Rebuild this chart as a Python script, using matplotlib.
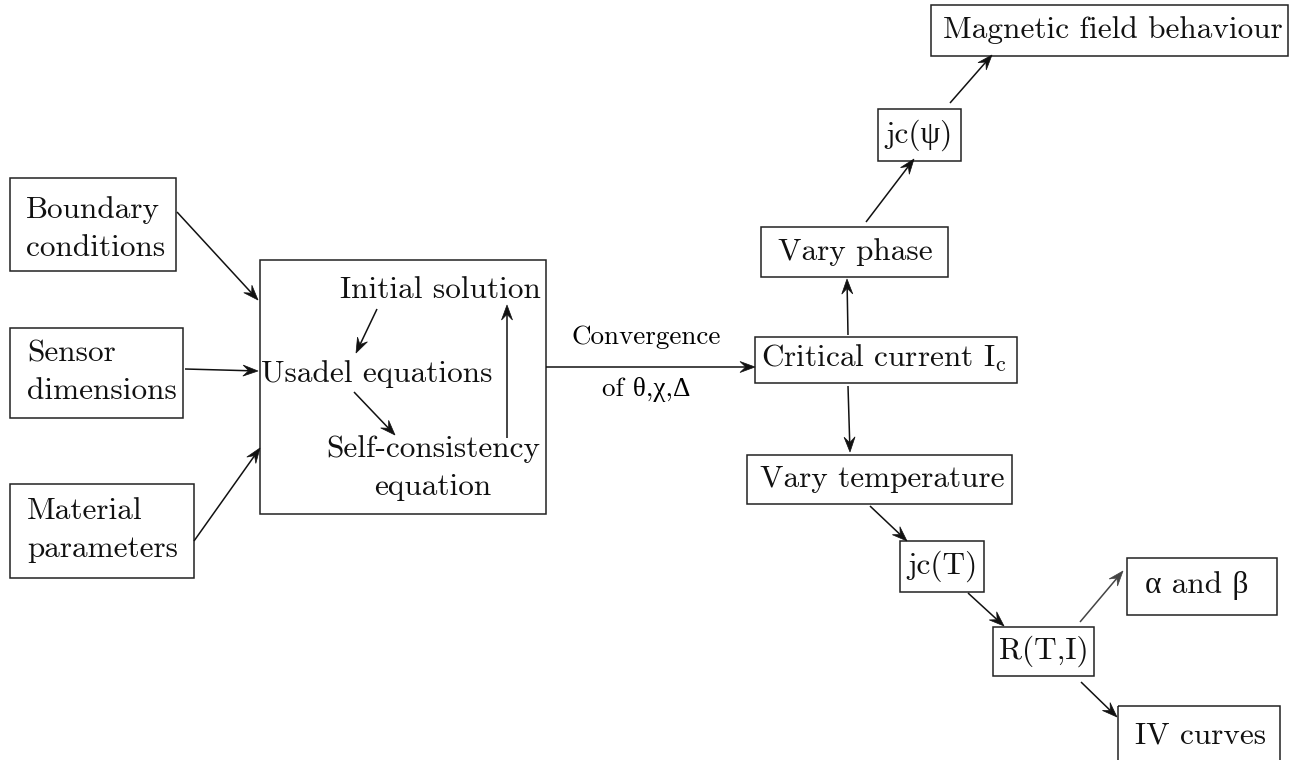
import matplotlib
matplotlib.use("Agg")
import numpy as np
import matplotlib.pyplot as plt
from matplotlib.patches import Rectangle, Polygon

plt.rcParams['mathtext.fontset'] = 'cm'
FAM = ['cmr10', 'Liberation Serif']

# ---- content ----
node_names = ["boundary", "sensor", "material", "solver", "critical", "phase",
              "jcpsi", "magnetic", "temperature", "jcT", "RTI", "alphabeta", "IV"]
node_labels = ["Boundary\nconditions", "Sensor\ndimensions", "Material\nparameters", "",
               "Critical current I$_{\\mathrm{c}}$", "Vary phase", "jc(ψ)",
               "Magnetic field behaviour", "Vary temperature", "jc(T)", "R(T,I)",
               "α and β", "IV curves"]
inner_labels = ["Initial solution", "Usadel equations", "Self-consistency\nequation"]
edge_label_top = "Convergence"
edge_label_bottom = "of θ,χ,Δ"
edges = [("boundary", "solver"), ("sensor", "solver"), ("material", "solver"),
         ("solver", "critical"), ("critical", "phase"), ("phase", "jcpsi"),
         ("jcpsi", "magnetic"), ("critical", "temperature"), ("temperature", "jcT"),
         ("jcT", "RTI"), ("RTI", "alphabeta"), ("RTI", "IV")]

# ---- layout (pixel coordinates, y downwards) ----
boxes = {  # x0, y0, x1, y1
    "boundary": (10, 178, 176, 271),
    "sensor": (10, 328, 183, 418),
    "material": (10, 484, 194, 578),
    "solver": (260, 260, 546, 514),
    "critical": (755, 337, 1017, 383),
    "phase": (761, 227, 948, 277),
    "jcpsi": (878, 109, 961, 161),
    "magnetic": (931, 5, 1288, 56),
    "temperature": (747, 455, 1012, 504),
    "jcT": (900, 541, 984, 592),
    "RTI": (993, 627, 1094, 676),
    "alphabeta": (1127, 558, 1277, 615),
    "IV": (1118, 706, 1280, 762),
}
text_pos = {  # x, y, ha
    "boundary": (26, 229, 'left'),
    "sensor": (27, 372, 'left'),
    "material": (27, 530, 'left'),
    "critical": (884, 358, 'center'),
    "phase": (855, 252, 'center'),
    "jcpsi": (919, 135, 'center'),
    "magnetic": (1113, 30, 'center'),
    "temperature": (882, 479, 'center'),
    "jcT": (943, 566, 'center'),
    "RTI": (1044, 651, 'center'),
    "alphabeta": (1197, 585, 'center'),
    "IV": (1201, 736, 'center'),
}
inner_pos = [(440, 290), (377, 374), (433, 468)]
edge_pts = [((177, 212), (258, 300)), ((185, 369), (258, 371)), ((194, 541), (260, 448)),
            ((546, 367), (755, 367)), ((848, 335), (847, 279)), ((866, 222), (914, 159)),
            ((950, 103), (992, 55)), ((848, 386), (850, 452)), ((870, 506), (907, 541)),
            ((968, 593), (1004, 626)), ((1080, 622), (1123, 571)), ((1081, 682), (1117, 717))]
inner_edges = [((377, 309), (356, 353)), ((354, 392), (395, 435)), ((507, 438), (507, 305))]

fig = plt.figure(figsize=(12.98, 7.6), dpi=100)
ax = fig.add_axes([0, 0, 1, 1])
ax.set_xlim(0, 1298)
ax.set_ylim(760, 0)
ax.axis('off')

edge_color = '#222222'
for name, label in zip(node_names, node_labels):
    x0, y0, x1, y1 = boxes[name]
    ax.add_patch(Rectangle((x0, y0), x1 - x0, y1 - y0, fill=False,
                           ec=edge_color, lw=1.1))
    if label:
        tx, ty, ha = text_pos[name]
        ax.text(tx, ty, label, ha=ha, va='center', fontsize=22.5, family=FAM,
                linespacing=1.45, color='#111111')

for lab, (tx, ty) in zip(inner_labels, inner_pos):
    ax.text(tx, ty, lab, ha='center', va='center', fontsize=22.5, family=FAM,
            linespacing=1.45, multialignment='center', color='#111111')

def arrow(p, q, color='#111111', L=15.0, W=5.5):
    p = np.array(p, float); q = np.array(q, float)
    u = (q - p) / np.hypot(*(q - p))
    n = np.array([-u[1], u[0]])
    notch = q - 0.62 * L * u
    ax.plot([p[0], notch[0]], [p[1], notch[1]], color=color, lw=1.1,
            solid_capstyle='butt')
    head = [q, q - L * u + W * n, notch, q - L * u - W * n]
    ax.add_patch(Polygon(head, closed=True, fc=color, ec=color, lw=0.5))

for i, (src, dst) in enumerate(edges):
    p, q = edge_pts[i]
    arrow(p, q, '#444444' if dst == 'alphabeta' else '#111111')
for p, q in inner_edges:
    arrow(p, q)

ax.text(646, 337, edge_label_top, ha='center', va='center', fontsize=19.5, family=FAM)
ax.text(646, 390, edge_label_bottom, ha='center', va='center', fontsize=19.5, family=FAM)

fig.savefig("out.png", dpi=100, facecolor='white')
